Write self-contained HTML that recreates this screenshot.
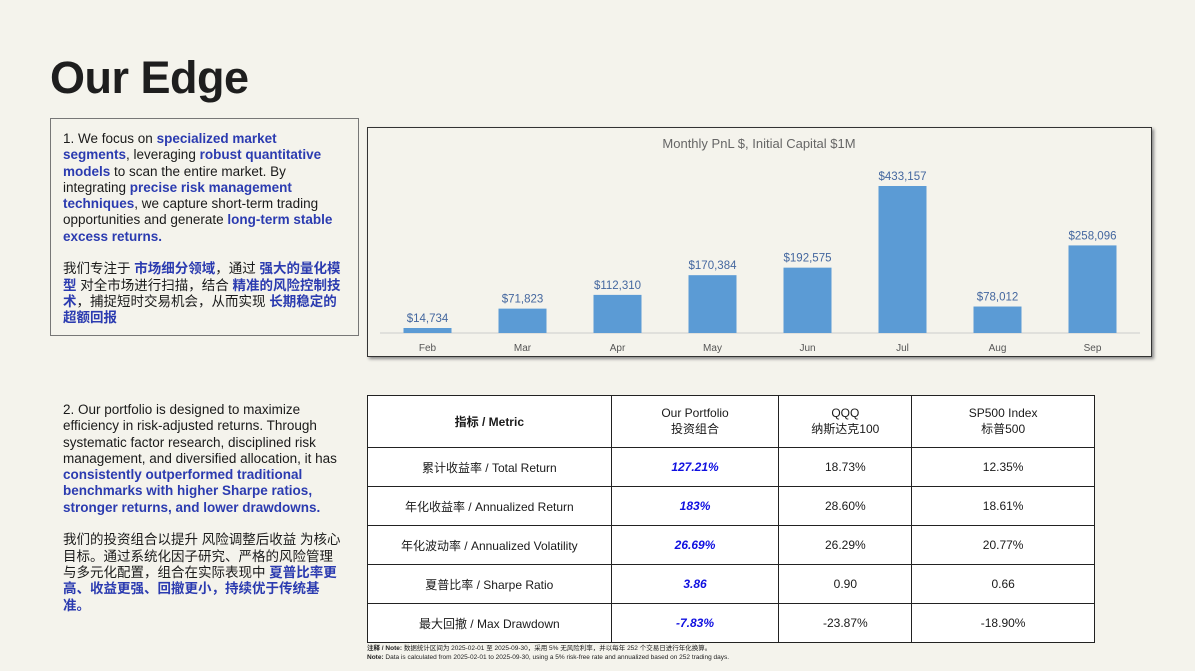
<!DOCTYPE html>
<html><head><meta charset="utf-8">
<style>
body{margin:0;width:1195px;height:671px;background:#f4f3ec;position:relative;overflow:hidden;font-family:"Liberation Sans","Noto Sans CJK SC",sans-serif;color:#1a1a1a}
h1{position:absolute;left:50px;top:52px;margin:0;font-size:45px;font-weight:bold;color:#1e1e1e;letter-spacing:-0.5px}
.txt{position:absolute;font-size:13.5px;line-height:16.3px}
.txt b{color:#2b3bb0}
.en{width:271px}
.cn{width:284px;font-size:13.5px}
#box1{left:50px;top:118px;width:283px;height:192px;border:1px solid #777;padding:12px 12px 12px 12px}
#txt2{left:63px;top:402px;width:290px}
#chart{position:absolute;left:367px;top:127px;width:783px;height:228px;border:1.5px solid #333;box-shadow:2px 2px 3px #888;background:#f4f3ec}
table{position:absolute;left:367px;top:395px;width:728px;border-collapse:collapse;font-size:12px;background:#fff}
td{border:1px solid #222;text-align:center;height:38px;padding:0}
tr.h td{height:51px}
td.p{color:#1010e0;font-weight:bold;font-style:italic}
.note{position:absolute;left:367px;top:645px;font-size:6.5px;line-height:8.5px;color:#222}
</style></head><body>
<h1>Our Edge</h1>
<div id="box1" class="txt"><div class="en">1. We focus on <b>specialized market segments</b>, leveraging <b>robust quantitative models</b> to scan the entire market. By integrating <b>precise risk management techniques</b>, we capture short-term trading opportunities and generate <b>long-term stable excess returns.</b></div><br><div class="cn">我们专注于 <b>市场细分领域</b>，通过 <b>强大的量化模型</b> 对全市场进行扫描，结合 <b>精准的风险控制技术</b>，捕捉短时交易机会，从而实现 <b>长期稳定的超额回报</b></div></div>
<div id="txt2" class="txt"><div class="en" style="width:275px">2. Our portfolio is designed to maximize efficiency in risk-adjusted returns. Through systematic factor research, disciplined risk management, and diversified allocation, it has <b>consistently outperformed traditional benchmarks with higher Sharpe ratios, stronger returns, and lower drawdowns.</b></div><br><div class="cn" style="width:280px">我们的投资组合以提升 风险调整后收益 为核心目标。通过系统化因子研究、严格的风险管理与多元化配置，组合在实际表现中 <b>夏普比率更高、收益更强、回撤更小，持续优于传统基准。</b></div></div>
<div id="chart">
<svg id="svg" width="783" height="228" xmlns="http://www.w3.org/2000/svg" font-family="Liberation Sans, sans-serif"></svg>
</div>
<script>
const months=["Feb","Mar","Apr","May","Jun","Jul","Aug","Sep"];
const pnl=[14734,71823,112310,170384,192575,433157,78012,258096];
const labels=["$14,734","$71,823","$112,310","$170,384","$192,575","$433,157","$78,012","$258,096"];
const svg=document.getElementById('svg');const NS='http://www.w3.org/2000/svg';
const x0=12,step=95,base=205,scale=147/433157;
function X(i){return x0+step*i+step/2}
function Y(v){return base-v*scale}
function mk(t,a,txt){const e=document.createElementNS(NS,t);for(const k in a)e.setAttribute(k,a[k]);if(txt)e.textContent=txt;svg.appendChild(e);return e}
let t=mk('text',{x:391,y:20,'text-anchor':'middle','font-size':13,fill:'#666'},'Monthly PnL $, Initial Capital  $1M');


let ax=mk('line',{x1:x0,x2:x0+step*months.length,y1:base,y2:base,stroke:'#ccc'});


months.forEach((m,i)=>{
 const y=Y(pnl[i]);
 let r=mk('rect',{x:X(i)-24,y:y,width:48,height:base-y,fill:'#5b9bd5'});
 
 
 let l=mk('text',{x:X(i),y:y-6,'text-anchor':'middle','font-size':11.5,fill:'#44679f'},labels[i]);
 
 
 let k=mk('text',{x:X(i),y:base+18,'text-anchor':'middle','font-size':10,fill:'#555'},m);
 
 
});
</script>
<table>
<colgroup><col style="width:244px"><col style="width:168px"><col style="width:133px"><col style="width:183px"></colgroup>
<tr class="h"><td><b>指标 / Metric</b></td><td>Our Portfolio<br>投资组合</td><td>QQQ<br>纳斯达克100</td><td>SP500 Index<br>标普500</td></tr>
<tr><td>累计收益率 / Total Return</td><td class="p">127.21%</td><td>18.73%</td><td>12.35%</td></tr>
<tr><td>年化收益率 / Annualized Return</td><td class="p">183%</td><td>28.60%</td><td>18.61%</td></tr>
<tr><td>年化波动率 / Annualized Volatility</td><td class="p">26.69%</td><td>26.29%</td><td>20.77%</td></tr>
<tr><td>夏普比率 / Sharpe Ratio</td><td class="p">3.86</td><td>0.90</td><td>0.66</td></tr>
<tr><td>最大回撤 / Max Drawdown</td><td class="p">-7.83%</td><td>-23.87%</td><td>-18.90%</td></tr>
</table>
<div class="note"><b>注释 / Note:</b> 数据统计区间为 2025-02-01 至 2025-09-30，采用 5% 无风险利率，并以每年 252 个交易日进行年化换算。<br><b>Note:</b> Data is calculated from 2025-02-01 to 2025-09-30, using a 5% risk-free rate and annualized based on 252 trading days.</div>
</body></html>
